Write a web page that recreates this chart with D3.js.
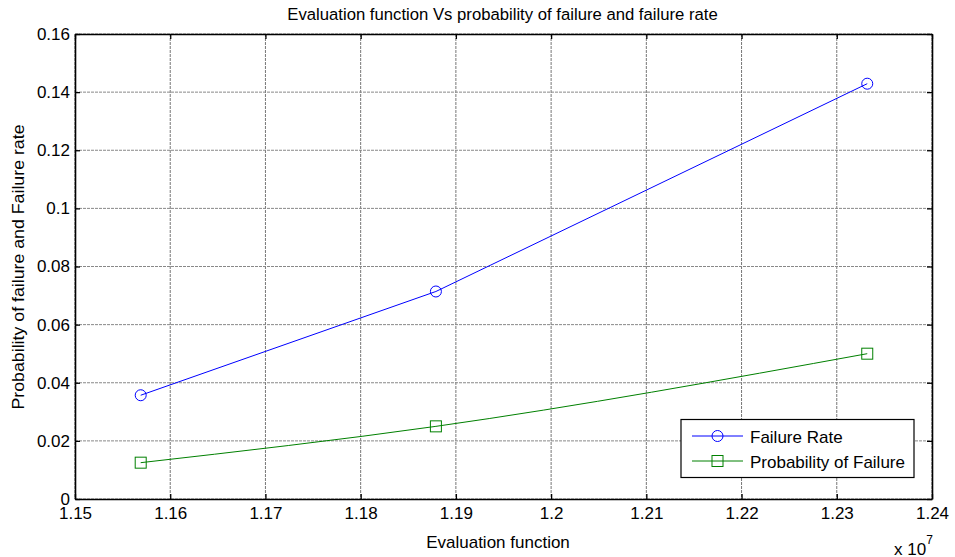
<!DOCTYPE html>
<html><head><meta charset="utf-8">
<script src="https://cdn.jsdelivr.net/npm/d3@7"></script>
<style>body{margin:0;background:#fff}text{font-family:"Liberation Sans",Arial,sans-serif}</style>
</head><body><svg id="c" width="955" height="557"></svg>
<script>
const xValues = [1.1569e7, 1.1879e7, 1.2332e7];
const failureRate = [0.0357, 0.0714, 0.1429];
const probFailure = [0.0125, 0.025, 0.05];
const xTicks = [1.15e7,1.16e7,1.17e7,1.18e7,1.19e7,1.2e7,1.21e7,1.22e7,1.23e7,1.24e7];
const xTickLabels = ["1.15","1.16","1.17","1.18","1.19","1.2","1.21","1.22","1.23","1.24"];
const yTicks = [0,0.02,0.04,0.06,0.08,0.1,0.12,0.14,0.16];
const yTickLabels = ["0","0.02","0.04","0.06","0.08","0.1","0.12","0.14","0.16"];
const seriesNames = ["Failure Rate","Probability of Failure"];

const L=75,R=932,T=34,B=499;
const FS=17;
const svg=d3.select("#c");
const x=d3.scaleLinear().domain([1.15e7,1.24e7]).range([L,R]);
const y=d3.scaleLinear().domain([0,0.16]).range([B,T]);

// grid
const g=svg.append("g");
g.selectAll(".gx").data(xTicks).join("line").attr("x1",d=>x(d)).attr("x2",d=>x(d)).attr("y1",T).attr("y2",B)
 .attr("stroke","#777").attr("stroke-width",1).attr("stroke-dasharray","3,1");
g.selectAll(".gy").data(yTicks).join("line").attr("y1",d=>y(d)).attr("y2",d=>y(d)).attr("x1",L).attr("x2",R)
 .attr("stroke","#888").attr("stroke-width",1).attr("stroke-dasharray","3,1");

// axes (ticks inside)
const ax=d3.axisBottom(x).tickValues(xTicks).tickFormat((d,i)=>xTickLabels[i]).tickSizeInner(-5).tickSizeOuter(0).tickPadding(8);
const axg=svg.append("g").attr("transform",`translate(0,${B})`).call(ax);
const axt=d3.axisTop(x).tickValues(xTicks).tickFormat("").tickSizeInner(-5).tickSizeOuter(0);
const axtg=svg.append("g").attr("transform",`translate(0,${T})`).call(axt);
const ay=d3.axisLeft(y).tickValues(yTicks).tickFormat((d,i)=>yTickLabels[i]).tickSizeInner(-5).tickSizeOuter(0).tickPadding(5);
const ayg=svg.append("g").attr("transform",`translate(${L},0)`).call(ay);
const ayr=d3.axisRight(y).tickValues(yTicks).tickFormat("").tickSizeInner(-5).tickSizeOuter(0);
const ayrg=svg.append("g").attr("transform",`translate(${R},0)`).call(ayr);
[axg,axtg,ayg,ayrg].forEach(a=>{a.select(".domain").attr("stroke","#000").attr("stroke-width",1.6);
 a.selectAll(".tick line").attr("stroke","#000").attr("stroke-width",1.3);
 a.selectAll("text").attr("font-size",FS).attr("fill","#000").attr("font-family","Liberation Sans, Arial, sans-serif");});

// lines
const line=d3.line().x((d,i)=>x(xValues[i])).y(d=>y(d)).curve(d3.curveMonotoneX);
svg.append("path").datum(failureRate).attr("d",d3.line().x((d,i)=>x(xValues[i])).y(d=>y(d))).attr("fill","none").attr("stroke","#0000ff").attr("stroke-width",1);
svg.append("path").datum(probFailure).attr("d",line).attr("fill","none").attr("stroke","#008000").attr("stroke-width",1);
svg.selectAll(".c1").data(failureRate).join("circle").attr("cx",(d,i)=>x(xValues[i])).attr("cy",d=>y(d)).attr("r",5.5)
 .attr("fill","none").attr("stroke","#0000ff").attr("stroke-width",1);
svg.selectAll(".s1").data(probFailure).join("rect").attr("x",(d,i)=>x(xValues[i])-5.5).attr("y",d=>y(d)-5.5).attr("width",11).attr("height",11)
 .attr("fill","none").attr("stroke","#008000").attr("stroke-width",1);

// legend
const lg=svg.append("g");
lg.append("rect").attr("x",681).attr("y",419.5).attr("width",233).attr("height",58).attr("fill","#fff").attr("stroke","#000").attr("stroke-width",1.2);
const lc=["#0000ff","#008000"];
const ly=[436,461];
seriesNames.forEach((n,i)=>{
 const yy=ly[i];
 lg.append("line").attr("x1",692).attr("x2",743).attr("y1",yy).attr("y2",yy).attr("stroke",lc[i]).attr("stroke-width",1);
 if(i===0) lg.append("circle").attr("cx",717.5).attr("cy",yy).attr("r",5.5).attr("fill","none").attr("stroke",lc[i]);
 else lg.append("rect").attr("x",712).attr("y",yy-5.5).attr("width",11).attr("height",11).attr("fill","none").attr("stroke",lc[i]);
 lg.append("text").attr("x",750).attr("y",yy+6.5).attr("font-size",FS).text(n);
});

// labels
svg.append("text").attr("x",502.5).attr("y",20).attr("text-anchor","middle").attr("font-size",16.7).text("Evaluation function Vs probability of failure and failure rate");
svg.append("text").attr("x",498).attr("y",548).attr("text-anchor","middle").attr("font-size",FS).text("Evaluation function");
svg.append("text").attr("transform","translate(24,267) rotate(-90)").attr("text-anchor","middle").attr("font-size",FS)
 .attr("textLength",285).attr("lengthAdjust","spacingAndGlyphs").text("Probability of failure and Failure rate");
const e=svg.append("text").attr("x",894).attr("y",555).attr("font-size",FS);
e.append("tspan").text("x 10");
e.append("tspan").attr("dy",-11).attr("font-size",12).text("7");
</script></body></html>
